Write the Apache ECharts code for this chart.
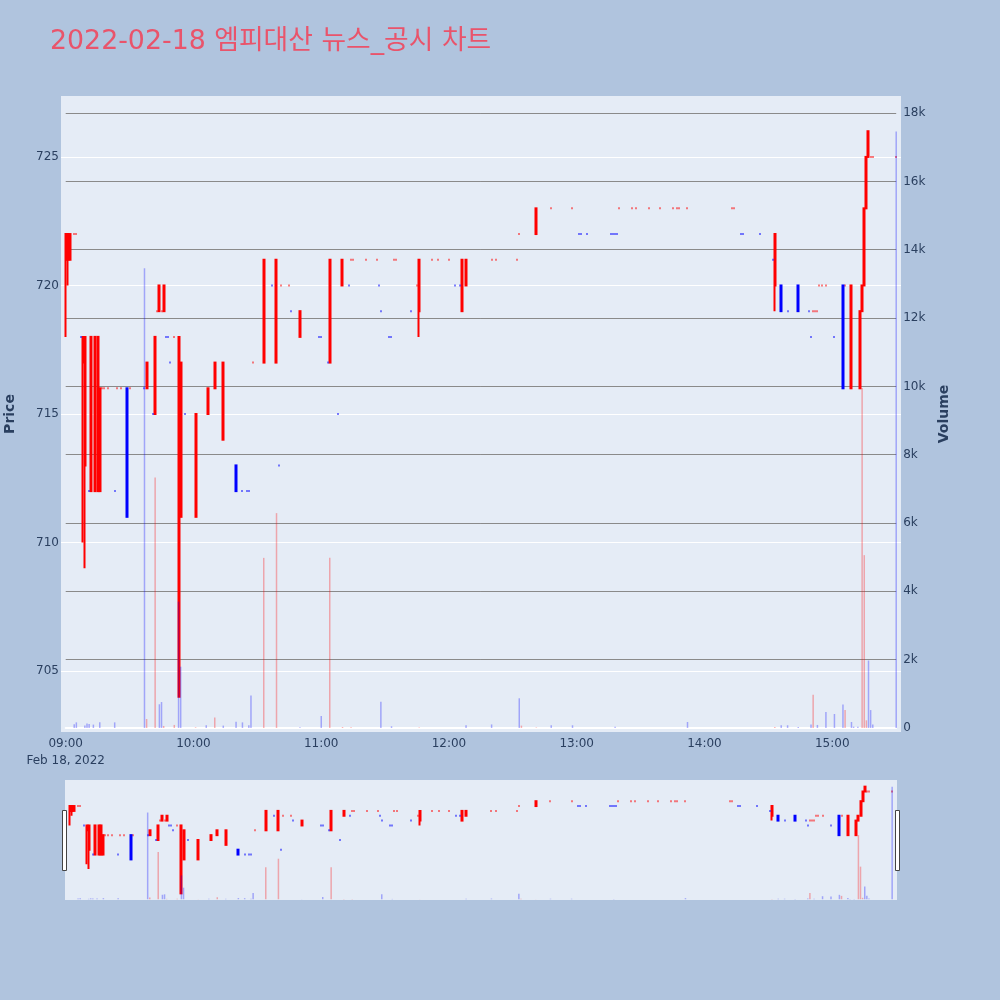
<!DOCTYPE html>
<html><head><meta charset="utf-8">
<script src="https://cdn.jsdelivr.net/npm/echarts@6/dist/echarts.min.js"></script>
<style>html,body{margin:0;padding:0;background:#b0c4de}#c{width:1000px;height:1000px}</style>
</head><body><div id="c"></div><script>
const chartTitle = '2022-02-18 엠피대산 뉴스_공시 차트';
const timeTicks = ['09:00','10:00','11:00','12:00','13:00','14:00','15:00'];
const dateLabel = 'Feb 18, 2022';
const priceTicks = [705, 710, 715, 720, 725];
const volumeTicks = [0, 2000, 4000, 6000, 8000, 10000, 12000, 14000, 16000, 18000];

// [time, open, close, low, high]
const risingCandles = [
 ['09:00',721,722,718,722],['09:01',721,722,720,722],['09:02',721,722,721,722],
 ['09:04',722,722,722,722],['09:05',722,722,722,722],
 ['09:08',717,718,710,718],['09:09',713,718,709,718],['09:12',712,718,712,718],
 ['09:14',712,718,712,718],['09:15',712,718,712,718],['09:16',712,716,712,716],
 ['09:17',716,716,716,716],['09:18',716,716,716,716],['09:20',716,716,716,716],
 ['09:24',716,716,716,716],['09:26',716,716,716,716],['09:30',716,716,716,716],
 ['09:38',716,717,716,717],['09:42',715,718,715,718],['09:43',719,719,719,719],
 ['09:44',719,720,719,720],['09:45',719,719,719,719],['09:46',719,720,719,720],
 ['09:51',718,718,718,718],['09:53',704,718,704,718],['09:54',711,717,711,717],
 ['10:01',711,715,711,715],['10:07',715,716,715,716],['10:10',716,717,716,717],
 ['10:14',714,717,714,717],['10:28',717,717,717,717],['10:33',717,721,717,721],
 ['10:39',717,721,717,721],['10:41',720,720,720,720],['10:45',720,720,720,720],
 ['10:50',718,719,718,719],['11:04',717,721,717,721],['11:10',720,721,720,721],
 ['11:14',721,721,721,721],['11:15',721,721,721,721],['11:21',721,721,721,721],
 ['11:26',721,721,721,721],['11:34',721,721,721,721],['11:35',721,721,721,721],
 ['11:45',720,720,720,720],['11:46',719,721,718,721],['11:52',721,721,721,721],
 ['11:55',721,721,721,721],['12:00',721,721,721,721],['12:06',719,721,719,721],
 ['12:08',720,721,720,721],['12:20',721,721,721,721],['12:22',721,721,721,721],
 ['12:32',721,721,721,721],['12:33',722,722,722,722],['12:41',722,723,722,723],
 ['12:48',723,723,723,723],['12:58',723,723,723,723],['13:20',723,723,723,723],
 ['13:26',723,723,723,723],['13:28',723,723,723,723],['13:34',723,723,723,723],
 ['13:39',723,723,723,723],['13:45',723,723,723,723],['13:47',723,723,723,723],
 ['13:48',723,723,723,723],['13:52',723,723,723,723],['14:13',723,723,723,723],
 ['14:14',723,723,723,723],['14:33',720,722,719,722],['14:51',719,719,719,719],
 ['14:52',719,719,719,719],['14:53',719,719,719,719],['14:54',720,720,720,720],
 ['14:55',720,720,720,720],['14:57',720,720,720,720],['15:06',720,720,720,720],
 ['15:09',716,720,716,720],['15:13',716,719,716,719],['15:14',719,720,719,720],
 ['15:15',720,723,720,723],['15:16',723,725,723,725],['15:17',725,726,725,726],
 ['15:18',725,725,725,725],['15:19',725,725,725,725],['15:30',725,725,725,725]
];
const fallingCandles = [
 ['09:07',718,718,718,718],['09:11',712,712,712,712],['09:23',712,712,712,712],
 ['09:29',716,711,711,716],['09:37',716,716,716,716],['09:41',715,715,715,715],
 ['09:47',718,718,718,718],['09:48',718,718,718,718],['09:49',717,717,717,717],
 ['09:56',715,715,715,715],['10:20',713,712,712,713],['10:23',712,712,712,712],
 ['10:25',712,712,712,712],['10:26',712,712,712,712],['10:37',720,720,720,720],
 ['10:40',713,713,713,713],['10:46',719,719,719,719],['10:59',718,718,718,718],
 ['11:00',718,718,718,718],['11:03',717,717,717,717],['11:08',715,715,715,715],
 ['11:13',720,720,720,720],['11:27',720,720,720,720],['11:28',719,719,719,719],
 ['11:32',718,718,718,718],['11:33',718,718,718,718],['11:42',719,719,719,719],
 ['12:03',720,720,720,720],['12:05',720,720,720,720],['13:01',722,722,722,722],
 ['13:02',722,722,722,722],['13:05',722,722,722,722],['13:16',722,722,722,722],
 ['13:17',722,722,722,722],['13:18',722,722,722,722],['13:19',722,722,722,722],
 ['14:17',722,722,722,722],['14:18',722,722,722,722],['14:26',722,722,722,722],
 ['14:32',721,721,721,721],['14:36',720,719,719,720],['14:39',719,719,719,719],
 ['14:44',720,719,719,720],['14:49',719,719,719,719],['14:50',718,718,718,718],
 ['15:01',718,718,718,718],['15:05',720,716,716,720]
];
// [time, volume]
const risingVolume = [
 ['09:38',264],['09:42',7330],['09:46',60],['09:51',90],['10:01',20],['10:10',310],
 ['10:33',4980],['10:39',6290],['11:04',4980],['11:10',30],['11:14',20],['11:46',15],
 ['12:34',70],['12:41',15],['14:33',30],['14:51',975],['15:06',525],['15:14',9950],
 ['15:15',5060],['15:16',225]
];
const fallingVolume = [
 ['09:04',110],['09:05',165],['09:09',70],['09:10',135],['09:11',115],['09:13',100],
 ['09:16',165],['09:23',165],['09:37',13455],['09:44',695],['09:45',760],['09:53',3700],
 ['09:54',1795],['10:06',80],['10:14',70],['10:20',185],['10:23',165],['10:26',80],
 ['10:27',955],['10:50',20],['11:00',350],['11:28',770],['11:33',50],['12:08',80],
 ['12:20',105],['12:33',870],['12:48',80],['12:58',80],['13:18',40],['13:52',175],
 ['14:36',80],['14:39',80],['14:44',30],['14:50',105],['14:53',90],['14:57',470],
 ['15:01',410],['15:05',685],['15:09',175],['15:10',40],['15:12',40],['15:17',1975],
 ['15:18',525],['15:19',100],['15:30',17460]
];

const toMin = s => { const p = s.split(':'); return +p[0] * 60 + +p[1]; };
const fmtMin = m => { const h = Math.floor(m / 60), mm = Math.round(m % 60); return String(h).padStart(2,'0') + ':' + String(mm).padStart(2,'0'); };
const candleRows = arr => arr.map(r => [toMin(r[0]), r[1], r[2], r[3], r[4]]);
const volRows = arr => arr.map(r => [toMin(r[0]), r[1]]);

const FONT = "'DejaVu Sans', 'Noto Sans CJK KR', sans-serif";
const INK = '#2a3f5f';
const RED = '#ff0000', BLUE = '#0000ff';
const xRange = [537.8, 932.3];
const xRangeVol = [540, 930];
const priceRange = [702.63, 727.37];
const volRange = [-117, 18500];

function candleSeries(data, col, xi, yi) {
  return {
    type: 'candlestick', xAxisIndex: xi, yAxisIndex: yi, data: data,
    encode: { x: 0, y: [1, 2, 3, 4] }, barWidth: 1.5, z: 2, silent: true,
    itemStyle: { color: col, color0: col, borderColor: col, borderColor0: col, borderColorDoji: col, borderWidth: 2 }
  };
}
function volSeries(data, col, xi, yi) {
  return {
    type: 'bar', xAxisIndex: xi, yAxisIndex: yi, data: data, barWidth: 1.5, barGap: '-100%',
    z: 3, silent: true, itemStyle: { color: col }
  };
}

const chart = echarts.init(document.getElementById('c'), null, { renderer: 'canvas' });
chart.setOption({
  animation: false,
  backgroundColor: '#b0c4de',
  title: { text: chartTitle, left: 45, top: 24, textStyle: { color: '#e9546b', fontSize: 26.8, fontWeight: 'normal', fontFamily: FONT } },
  grid: [
    { left: 61, top: 96, width: 840, height: 636, show: true, backgroundColor: '#e5ecf6', borderWidth: 0, outerBoundsMode: 'none', containLabel: false },
    { left: 65.7, top: 96, width: 830.5, height: 636, show: false, outerBoundsMode: 'none', containLabel: false },
    { left: 65, top: 780, width: 832, height: 120, show: true, backgroundColor: '#e5ecf6', borderWidth: 0, outerBoundsMode: 'none', containLabel: false }
  ],
  xAxis: [
    { type: 'value', gridIndex: 0, min: xRange[0], max: xRange[1],
      axisLine: { show: false }, axisTick: { show: false }, splitLine: { show: false },
      axisLabel: { customValues: timeTicks.map(toMin), color: INK, fontSize: 12, fontFamily: FONT, margin: 3, lineHeight: 17,
        formatter: v => { const s = fmtMin(v); return s === timeTicks[0] ? s + '\n' + dateLabel : s; } } },
    { type: 'value', gridIndex: 1, min: xRangeVol[0], max: xRangeVol[1],
      axisLine: { show: true, onZero: true, lineStyle: { color: '#ffffff', width: 2 } },
      axisTick: { show: false }, axisLabel: { show: false }, splitLine: { show: false } },
    { type: 'value', gridIndex: 2, min: xRange[0], max: xRange[1], show: false }
  ],
  yAxis: [
    { type: 'value', gridIndex: 0, min: priceRange[0], max: priceRange[1], position: 'left',
      name: 'Price', nameLocation: 'middle', nameRotate: 90, nameGap: 44,
      nameTextStyle: { color: INK, fontSize: 14, fontWeight: 'bold', fontFamily: FONT },
      axisLine: { show: false }, axisTick: { show: false, customValues: priceTicks },
      axisLabel: { customValues: priceTicks, color: INK, fontSize: 12, fontFamily: FONT, margin: 2 },
      splitLine: { show: true, lineStyle: { color: '#ffffff', width: 1 } } },
    { type: 'value', gridIndex: 1, min: volRange[0], max: volRange[1], position: 'right',
      name: 'Volume', nameLocation: 'middle', nameRotate: 90, nameGap: 41,
      nameTextStyle: { color: INK, fontSize: 14, fontWeight: 'bold', fontFamily: FONT },
      axisLine: { show: false }, axisTick: { show: false, customValues: volumeTicks.slice(1) },
      axisLabel: { customValues: volumeTicks, color: INK, fontSize: 12, fontFamily: FONT, margin: 7,
        formatter: v => v === 0 ? '0' : (v / 1000) + 'k' },
      splitLine: { show: true, lineStyle: { color: '#8a8a8a', width: 1 } } },
    { type: 'value', gridIndex: 2, min: priceRange[0], max: priceRange[1], show: false },
    { type: 'value', gridIndex: 2, min: volRange[0], max: volRange[1], show: false }
  ],
  series: [
    candleSeries(candleRows(risingCandles), RED, 0, 0),
    candleSeries(candleRows(fallingCandles), BLUE, 0, 0),
    volSeries(volRows(risingVolume), 'rgba(255,0,0,0.3)', 1, 1),
    volSeries(volRows(fallingVolume), 'rgba(0,0,255,0.3)', 1, 1),
    candleSeries(candleRows(risingCandles), RED, 2, 2),
    candleSeries(candleRows(fallingCandles), BLUE, 2, 2),
    volSeries(volRows(risingVolume), 'rgba(255,0,0,0.3)', 2, 3),
    volSeries(volRows(fallingVolume), 'rgba(0,0,255,0.3)', 2, 3)
  ],
  graphic: [
    { type: 'rect', shape: { x: 62.5, y: 810.5, width: 4, height: 60 }, style: { fill: '#ffffff', stroke: '#444444', lineWidth: 1 }, z: 100 },
    { type: 'rect', shape: { x: 895.5, y: 810.5, width: 4, height: 60 }, style: { fill: '#ffffff', stroke: '#444444', lineWidth: 1 }, z: 100 }
  ]
});
</script></body></html>
